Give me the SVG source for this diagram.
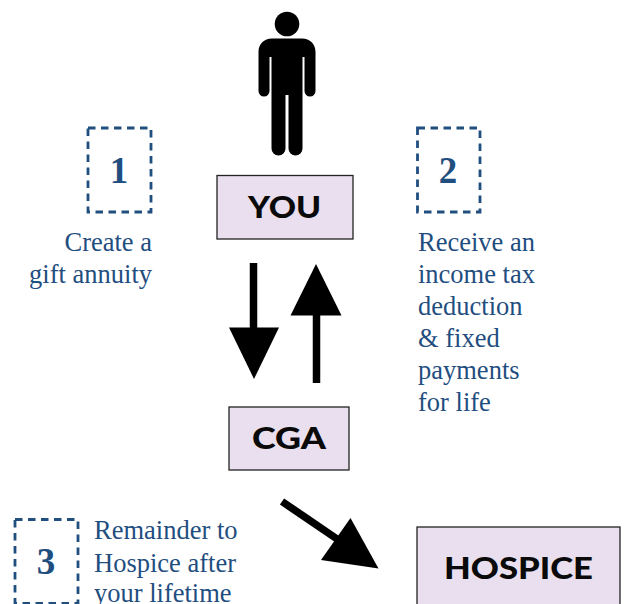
<svg xmlns="http://www.w3.org/2000/svg" width="624" height="604" viewBox="0 0 624 604">
<style>
.box{fill:#e9dfef;stroke:#222;stroke-width:1.3}
.lab{font-family:"Lato","Liberation Sans",sans-serif;font-weight:900;fill:#0a0a0a}
.dash{fill:none;stroke:#1f4e7f;stroke-width:2.8;stroke-dasharray:7.500 5.500}
.num{font-family:"Liberation Serif",serif;font-weight:700;font-size:37px;fill:#1f4e7f;text-anchor:middle}
.txt{font-family:"Liberation Serif",serif;font-size:26.500px;fill:#1f4e7f}
.stem{stroke:#000;stroke-width:7.500;fill:none}
</style>
<rect width="624" height="604" fill="#fff"/>
<g id="person">
<circle cx="287" cy="24" r="12.300" fill="#000"/>
<path fill="#000" d="M272 38.500H302C310 38.500 315.500 44 315.500 52V91A5.500 5.500 0 0 1 304.500 91V57H302.500V148.500A7 7 0 0 1 288.500 148.500V95H285.500V148.500A7 7 0 0 1 271.500 148.500V57H269.500V91A5.500 5.500 0 0 1 258.500 91V52C258.500 44 264 38.500 272 38.500Z"/>
</g>
<g id="you"><rect class="box" x="217" y="175.500" width="136" height="63.500"/><text class="lab" x="248" y="218" font-size="30" textLength="73" lengthAdjust="spacingAndGlyphs">YOU</text></g>
<g id="cga"><rect class="box" x="229" y="407" width="120" height="63"/><text class="lab" x="252" y="449" font-size="30" textLength="74" lengthAdjust="spacingAndGlyphs">CGA</text></g>
<g id="hospice"><rect class="box" x="417" y="527" width="203" height="90"/><text class="lab" x="444" y="579" font-size="31" textLength="149" lengthAdjust="spacingAndGlyphs">HOSPICE</text></g>
<g id="connectors">
<path class="stem" d="M253.500 263V330"/><path d="M229 327.500H279L254 379Z"/>
<path class="stem" d="M316.500 383V313"/><path d="M316 264L341.500 315.500H290.500Z"/>
<path class="stem" d="M282 501.500L340 541"/><path d="M350.500 518L378.500 568.500L321 560Z"/>
</g>
<g id="step1"><rect class="dash" x="88" y="128" width="63" height="84"/><text class="num" x="119" y="183">1</text>
<text class="txt" text-anchor="end"><tspan x="152" y="251">Create a</tspan><tspan x="152" y="283">gift annuity</tspan></text></g>
<g id="step2"><rect class="dash" x="417.500" y="128" width="62.500" height="84"/><text class="num" x="448" y="183">2</text>
<text class="txt"><tspan x="418" y="251">Receive an</tspan><tspan x="418" y="283">income tax</tspan><tspan x="418" y="315">deduction</tspan><tspan x="418" y="347">&amp; fixed</tspan><tspan x="418" y="379">payments</tspan><tspan x="418" y="411">for life</tspan></text></g>
<g id="step3"><rect class="dash" x="15" y="519.500" width="63" height="84"/><text class="num" x="46" y="574">3</text>
<text class="txt"><tspan x="94" y="539">Remainder to</tspan><tspan x="94" y="572">Hospice after</tspan><tspan x="94" y="602">your lifetime</tspan></text></g>
</svg>
